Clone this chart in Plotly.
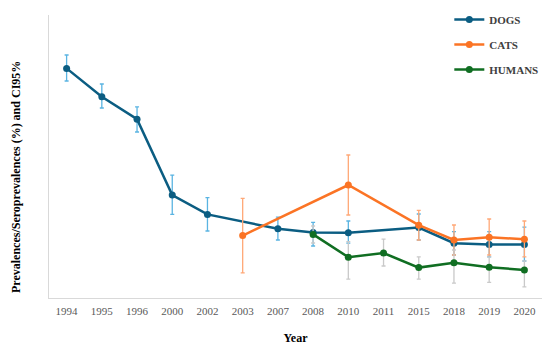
import plotly.graph_objects as go

years = ["1994", "1995", "1996", "2000", "2002", "2003", "2007", "2008",
         "2010", "2011", "2015", "2018", "2019", "2020"]

dogs_years = ["1994", "1995", "1996", "2000", "2002", "2007", "2008",
              "2010", "2015", "2018", "2019", "2020"]
dogs_val = [57.4, 50.3, 44.7, 25.75, 20.9, 17.3, 16.4, 16.3, 17.6, 13.7, 13.4, 13.4]
dogs_lo = [54.25, 47.5, 41.5, 20.9, 16.75, 14.5, 13.0, 13.7, 14.5, 10.75, 10.3, 9.25]
dogs_hi = [60.75, 53.5, 47.8, 30.7, 25.1, 20.2, 18.9, 19.25, 21.0, 16.6, 16.6, 17.7]

cats_years = ["2003", "2010", "2015", "2018", "2019", "2020"]
cats_val = [15.6, 28.25, 18.2, 14.5, 15.2, 14.7]
cats_lo = [6.3, 20.75, 14.5, 10.75, 10.75, 10.3]
cats_hi = [24.9, 35.75, 21.9, 18.25, 19.75, 19.25]

humans_years = ["2008", "2010", "2011", "2015", "2018", "2019", "2020"]
humans_val = [15.9, 10.2, 11.25, 7.6, 8.8, 7.7, 7.0]
humans_lo = [13.75, 4.7, 8.0, 4.7, 3.7, 3.9, 2.8]
humans_hi = [18.0, 14.1, 14.7, 10.3, 12.0, 10.3, 9.3]

series = [
    ("DOGS", dogs_years, dogs_val, dogs_lo, dogs_hi, "#0b5d82", "#5ab4e2"),
    ("CATS", cats_years, cats_val, cats_lo, cats_hi, "#fb7425", "#ffa877"),
    ("HUMANS", humans_years, humans_val, humans_lo, humans_hi, "#106e22", "#c9c9c9"),
]

serif = "Liberation Serif, Times New Roman, serif"

fig = go.Figure()
for name, xs, vals, lo, hi, col, ecol in series:
    fig.add_trace(go.Scatter(
        x=xs, y=vals, name=name, legendgroup=name,
        mode="lines+markers",
        line=dict(color=col, width=2.5),
        marker=dict(color=col, size=7),
        error_y=dict(type="data", symmetric=False,
                     array=[h - v for h, v in zip(hi, vals)],
                     arrayminus=[v - l for v, l in zip(vals, lo)],
                     color=ecol, thickness=1.3, width=2),
    ))

fig.update_layout(
    width=550, height=349,
    margin=dict(l=49, r=8, t=15, b=51, autoexpand=False),
    paper_bgcolor="white", plot_bgcolor="white",
    font=dict(family=serif, color="#595959", size=11),
    showlegend=True,
    legend=dict(x=0.812, y=1.035, xanchor="left", yanchor="top",
                traceorder="grouped", tracegroupgap=6,
                itemwidth=30, bgcolor="rgba(0,0,0,0)",
                font=dict(family=serif, size=11, color="#404040", weight="bold")),
    xaxis=dict(type="category", categoryorder="array", categoryarray=years,
               range=[-0.5, 13.5], automargin=False,
               showline=True, linecolor="#d9d9d9", linewidth=1,
               showgrid=False, ticks="", zeroline=False, ticklabelstandoff=3,
               tickfont=dict(family=serif, size=11, color="#595959"),
               title=dict(text="Year", standoff=17,
                          font=dict(family=serif, size=12, color="#000000", weight="bold"))),
    yaxis=dict(range=[0, 70.75], showticklabels=False, showgrid=False,
               automargin=False,
               showline=True, linecolor="#d9d9d9", linewidth=1,
               zeroline=False, ticks=""),
    annotations=[dict(text="<b>Prevalences/Seroprevalences (%) and CI95%</b>",
                      textangle=-90, xref="paper", yref="paper",
                      x=(16 - 49) / 493, y=(298 - 177) / 283,
                      xanchor="center", yanchor="middle", showarrow=False,
                      font=dict(family=serif, size=12, color="#000000"))],
)

fig.write_html("out.html", config={"displayModeBar": False},
               post_script="document.body.style.margin='0';")
